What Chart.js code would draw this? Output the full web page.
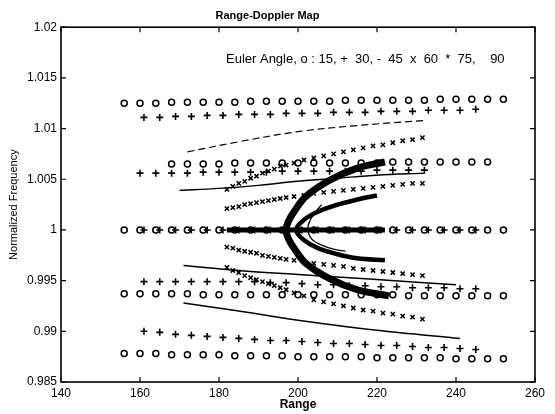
<!DOCTYPE html>
<html>
<head>
<meta charset="utf-8">
<script src="https://cdn.jsdelivr.net/npm/chart.js@4/dist/chart.umd.min.js"></script>
<style>
  html, body { margin: 0; padding: 0; background: #fff; }
  #wrap { width: 555px; height: 414px; }
</style>
</head>
<body>
<div id="wrap"><canvas id="rd" width="555" height="414"></canvas></div>
<script>
/* ── Axis ticks ── */
const xTicks = [140, 160, 180, 200, 220, 240, 260];
const yTicks = [0.985, 0.99, 0.995, 1, 1.005, 1.01, 1.015, 1.02];
const legendText = 'Euler Angle, o : 15, +  30, -  45  x  60  *  75,    90';

/* ── 15 deg (o) ── */
const rangeO = [156,160,164,168,172,176,180,184,188,192,196,200,204,208,212,216,220,224,228,232,236,240,244,248,252];
const oTop    = [1.0125,1.0125,1.0125,1.0126,1.0126,1.0126,1.0126,1.0126,1.0127,1.0127,1.0127,1.0127,1.0127,1.0127,1.0128,1.0128,1.0128,1.0128,1.0128,1.0128,1.0129,1.0129,1.0129,1.0129,1.0129];
const oBottom = [0.9878,0.9878,0.9878,0.9877,0.9877,0.9877,0.9877,0.9876,0.9876,0.9876,0.9876,0.9875,0.9875,0.9875,0.9875,0.9875,0.9874,0.9874,0.9874,0.9874,0.9874,0.9873,0.9873,0.9873,0.9873];
const oInLow  = [0.9937,0.9937,0.9937,0.9937,0.9937,0.9936,0.9936,0.9936,0.9936,0.9936,0.9936,0.9936,0.9936,0.9936,0.9936,0.9936,0.9936,0.9936,0.9935,0.9935,0.9935,0.9935,0.9935,0.9935,0.9935];
const oCenter = [1,1,1,1,1,1,1,1,1,1,1,1,1,1,1,1,1,1,1,1,1,1,1,1,1];
const rangeOi = [168,172,176,180,184,188,192,196,200,204,208,212,216,220,224,228,232,236,240,244,248];
const oInUp   = [1.0065,1.0065,1.0065,1.0065,1.0066,1.0066,1.0066,1.0066,1.0066,1.0066,1.0066,1.0066,1.0066,1.0066,1.0067,1.0067,1.0067,1.0067,1.0067,1.0067,1.0067];

/* ── 30 deg (+) ── */
const rangeP  = [161,165,169,173,177,181,185,189,193,197,201,205,209,213,217,221,225,229,233,237,241,245];
const pOutUp  = [1.0111,1.0111,1.0112,1.0112,1.0113,1.0113,1.0114,1.0114,1.0114,1.0115,1.0115,1.0115,1.0116,1.0116,1.0116,1.0117,1.0117,1.0117,1.0118,1.0118,1.0118,1.0119];
const pOutLow = [0.9900,0.9899,0.9897,0.9896,0.9895,0.9894,0.9893,0.9892,0.9891,0.9891,0.9890,0.9889,0.9888,0.9888,0.9887,0.9886,0.9886,0.9885,0.9884,0.9884,0.9883,0.9882];
const pInLow  = [0.9949,0.9949,0.9949,0.9949,0.9949,0.9949,0.9949,0.9949,0.9948,0.9948,0.9947,0.9946,0.9946,0.9945,0.9945,0.9944,0.9944,0.9943,0.9943,0.9943,0.9942,0.9942];
const pCenter = [1,1,1,1,1,1,1,1,1,1,1,1,1,1,1,1,1,1,1,1,1,1];
const rangePi = [160,164,168,172,176,180,184,188,192,196,200,204,208,212,216,220,224,228,232];
const pInUp   = [1.0056,1.0056,1.0056,1.0056,1.0057,1.0057,1.0057,1.0057,1.0057,1.0058,1.0058,1.0058,1.0058,1.0058,1.0058,1.0059,1.0059,1.0059,1.0059];

/* ── 45 deg (-) ── */
const rangeL1 = [172,185,200,215,232];
const line1   = [1.0077,1.0087,1.0097,1.0103,1.0108];
const rangeL2 = [170,180,190,200,210,220,232];
const line2   = [1.0039,1.0041,1.0044,1.0048,1.0051,1.0054,1.0056];
const rangeL3 = [171,185,200,220,240];
const line3   = [0.9965,0.9960,0.9956,0.9951,0.9946];
const rangeL4 = [171,185,200,220,241];
const line4   = [0.9928,0.9920,0.9911,0.9901,0.9893];

/* ── 60 deg (x) ── */
const rangeX  = [182,183.5,185,186.5,188,189.5,191,192.5,194,195.5,197,199,201.5,204,206.5,209,211.5,214,216.5,219,221.5,224,226.5,229,231.5];
const xOutUp  = [1.0040,1.0043,1.0046,1.0048,1.0051,1.0053,1.0056,1.0058,1.0060,1.0063,1.0064,1.0066,1.0069,1.0071,1.0073,1.0075,1.0077,1.0079,1.0081,1.0083,1.0084,1.0086,1.0088,1.0089,1.0091];
const xOutLow = [0.9963,0.9960,0.9958,0.9955,0.9953,0.9951,0.9949,0.9947,0.9945,0.9943,0.9941,0.9938,0.9935,0.9931,0.9929,0.9927,0.9925,0.9923,0.9921,0.9920,0.9918,0.9917,0.9915,0.9914,0.9912];
const xInUp   = [1.0021,1.0022,1.0023,1.0025,1.0026,1.0027,1.0028,1.0029,1.0030,1.0031,1.0032,1.0033,1.0034,1.0036,1.0037,1.0038,1.0039,1.0040,1.0041,1.0042,1.0043,1.0044,1.0045,1.0046,1.0046];
const xInLow  = [0.9983,0.9982,0.9980,0.9979,0.9978,0.9977,0.9975,0.9974,0.9973,0.9972,0.9971,0.9970,0.9969,0.9967,0.9966,0.9965,0.9964,0.9962,0.9961,0.9960,0.9959,0.9958,0.9957,0.9956,0.9955];

/* ── 75 deg (*) dense arcs ── */
const rangeBigC = [222,215,208,202,199,197.5,197,197.5,199,202,208,215,223];
const bigC      = [1.0067,1.0061,1.0049,1.0033,1.0018,1.0008,1.0,0.9992,0.9982,0.9967,0.9952,0.9941,0.9935];
const rangeArm  = [220,215,210,205,201.5,199.5,201.5,205,210,215,222];
const arm       = [1.0034,1.0030,1.0025,1.0018,1.0010,1.0,0.9990,0.9982,0.9976,0.9972,0.9970];
const rangeBand = [182,222];
const band      = [1,1];

/* ── 90 deg (.) ── */
const rangeThin = [206,204.5,203,202.5,203.5,206,209,212];
const thinC     = [1.0025,1.0018,1.0009,1.0,0.9991,0.9985,0.9981,0.9979];

/* ── Helpers ── */
const FONT = "'Liberation Sans', Arial, sans-serif";
const pts = (xs, ys) => xs.map((x, i) => ({ x, y: ys[i] }));

function marks(xs, ys, style, r, w) {
  return { data: pts(xs, ys), pointStyle: style, pointRadius: r, borderWidth: w,
           borderColor: '#000', backgroundColor: 'rgba(0,0,0,0)', showLine: false };
}
function curve(xs, ys, w, dash) {
  return { data: pts(xs, ys), showLine: true, pointRadius: 0, borderWidth: w, borderColor: '#000',
           borderDash: dash || [], tension: 0.35, fill: false };
}

const datasets = [
  curve(rangeL1, line1, 1.2, [7, 4]),
  curve(rangeL2, line2, 1.4),
  curve(rangeL3, line3, 1.5),
  curve(rangeL4, line4, 1.5),
  curve(rangeBand, band, 5),
  curve(rangeBigC, bigC, 7),
  curve(rangeArm, arm, 4.5),
  curve(rangeThin, thinC, 1.3),
  marks(rangeO, oTop, 'circle', 3, 1.5),
  marks(rangeO, oBottom, 'circle', 3, 1.5),
  marks(rangeO, oInLow, 'circle', 3, 1.5),
  marks(rangeOi, oInUp, 'circle', 3, 1.5),
  marks(rangeO, oCenter, 'circle', 3, 1.6),
  marks(rangeP, pOutUp, 'cross', 3.5, 1.6),
  marks(rangeP, pOutLow, 'cross', 3.5, 1.6),
  marks(rangePi, pInUp, 'cross', 3.5, 1.6),
  marks(rangeP, pInLow, 'cross', 3.5, 1.6),
  marks(rangeP, pCenter, 'cross', 3.5, 1.6),
  marks(rangeX, xOutUp, 'crossRot', 3, 1.5),
  marks(rangeX, xOutLow, 'crossRot', 3, 1.5),
  marks(rangeX, xInUp, 'crossRot', 3, 1.5),
  marks(rangeX, xInLow, 'crossRot', 3, 1.5)
];

/* ── Box, inward ticks and the in-axes note ── */
const framePlugin = {
  id: 'frame',
  beforeDraw(c) {
    const ctx = c.ctx;
    ctx.save(); ctx.fillStyle = '#fff'; ctx.fillRect(0, 0, c.width, c.height); ctx.restore();
  },
  afterDatasetsDraw(c) {
    const { ctx, chartArea: a, scales: { x, y } } = c;
    ctx.save();
    ctx.strokeStyle = '#000';
    ctx.lineWidth = 1.6;
    ctx.strokeRect(a.left, a.top, a.right - a.left, a.bottom - a.top);
    ctx.lineWidth = 1.2;
    ctx.beginPath();
    x.ticks.forEach(t => {
      const px = x.getPixelForValue(t.value);
      ctx.moveTo(px, a.bottom); ctx.lineTo(px, a.bottom - 5);
      ctx.moveTo(px, a.top);    ctx.lineTo(px, a.top + 5);
    });
    y.ticks.forEach(t => {
      const py = y.getPixelForValue(t.value);
      ctx.moveTo(a.left, py);  ctx.lineTo(a.left + 5, py);
      ctx.moveTo(a.right, py); ctx.lineTo(a.right - 5, py);
    });
    ctx.stroke();
    ctx.fillStyle = '#000';
    ctx.font = '13px ' + FONT;
    ctx.textBaseline = 'alphabetic';
    ctx.fillText(legendText, 226, 63);
    ctx.restore();
  }
};

new Chart(document.getElementById('rd'), {
  type: 'scatter',
  data: { datasets },
  plugins: [framePlugin],
  options: {
    responsive: false,
    devicePixelRatio: 1,
    animation: false,
    events: [],
    layout: { padding: { left: 0, right: 20, top: 0, bottom: 0 } },
    plugins: {
      legend: { display: false },
      tooltip: { enabled: false },
      title: {
        display: true, text: 'Range-Doppler Map', color: '#000',
        font: { family: FONT, size: 11, weight: 'bold' },
        padding: { top: 9, bottom: 5 }
      }
    },
    scales: {
      x: {
        type: 'linear', min: 140, max: 260,
        afterBuildTicks: s => { s.ticks = xTicks.map(v => ({ value: v })); },
        afterFit: s => { s.height = 32; },
        ticks: { color: '#000', font: { family: FONT, size: 12 }, padding: 4, maxRotation: 0 },
        grid: { display: false, drawTicks: false },
        border: { display: false },
        title: { display: true, text: 'Range', color: '#000', font: { family: FONT, size: 12, weight: 'bold' }, padding: { top: 0, bottom: 2 } }
      },
      y: {
        type: 'linear', min: 0.985, max: 1.02,
        afterBuildTicks: s => { s.ticks = yTicks.map(v => ({ value: v })); },
        afterFit: s => { s.width = 61; },
        ticks: { color: '#000', font: { family: FONT, size: 12 }, padding: 4,
                 callback: v => String(+v.toFixed(3)) },
        grid: { display: false, drawTicks: false },
        border: { display: false },
        title: { display: true, text: 'Normalized Frequency', color: '#000', font: { family: FONT, size: 11 }, padding: { top: 7, bottom: 0 } }
      }
    }
  }
});
</script>
</body>
</html>
